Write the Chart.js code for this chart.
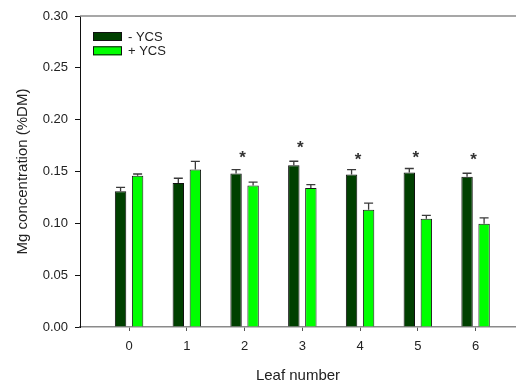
<!DOCTYPE html>
<html>
<head>
<meta charset="utf-8">
<script src="https://cdn.jsdelivr.net/npm/chart.js@4/dist/chart.umd.min.js"></script>
<style>
  html, body { margin: 0; padding: 0; background: #fff; }
  #wrap { width: 516px; height: 385px; position: relative; }
</style>
</head>
<body>
<div id="wrap"><canvas id="c" width="516" height="385"></canvas></div>
<script>
// Leaf positions and Mg concentration (% of dry matter)
const leafNumbers = [0, 1, 2, 3, 4, 5, 6];
const mgWithoutYCS = [0.131, 0.139, 0.148, 0.156, 0.147, 0.149, 0.145];
const errWithoutYCS = [0.0036, 0.0045, 0.0039, 0.0039, 0.0048, 0.0039, 0.0033];
const mgWithYCS = [0.146, 0.152, 0.1365, 0.134, 0.113, 0.1045, 0.0995];
const errWithYCS = [0.0016, 0.0077, 0.0032, 0.0034, 0.0065, 0.0031, 0.0057];
// Significance marks and the height at which each one sits
const sigMarks = ['', '', '*', '*', '*', '*', '*'];
const sigHeights = [0, 0, 0.1667, 0.1763, 0.1644, 0.1667, 0.1644];
const yTicks = [0, 0.05, 0.10, 0.15, 0.20, 0.25, 0.30];

const FONT = '"Liberation Sans", Arial, sans-serif';
const TEXT = '#222';

// Upper error bars for every bar
const errorBars = {
  id: 'errorBars',
  afterDatasetsDraw(chart) {
    const ctx = chart.ctx;
    const y = chart.scales.y;
    const errs = [errWithoutYCS, errWithYCS];
    ctx.save();
    ctx.strokeStyle = '#3a3a3a';
    ctx.lineWidth = 1.3;
    chart.data.datasets.forEach((ds, di) => {
      chart.getDatasetMeta(di).data.forEach((bar, i) => {
        const v = ds.data[i].y;
        const top = y.getPixelForValue(v + errs[di][i]);
        const x = bar.x;
        ctx.beginPath();
        ctx.moveTo(x, bar.y);
        ctx.lineTo(x, top);
        ctx.moveTo(x - 4.5, top);
        ctx.lineTo(x + 4.5, top);
        ctx.stroke();
      });
    });
    ctx.restore();
  }
};

// Asterisks, top frame line and the inset legend
const decorations = {
  id: 'decorations',
  afterDraw(chart) {
    const ctx = chart.ctx;
    const xs = chart.scales.x, ys = chart.scales.y;
    const area = chart.chartArea;
    ctx.save();
    // top frame
    ctx.strokeStyle = '#8a8a8a';
    ctx.lineWidth = 1.5;
    ctx.beginPath();
    ctx.moveTo(area.left, area.top);
    ctx.lineTo(area.right, area.top);
    ctx.stroke();
    // asterisks
    ctx.fillStyle = '#333';
    ctx.font = 'bold 17px ' + FONT;
    ctx.textAlign = 'center';
    ctx.textBaseline = 'middle';
    sigMarks.forEach((m, i) => {
      if (!m) return;
      const px = xs.getPixelForValue(leafNumbers[i]) - 2;
      const py = ys.getPixelForValue(sigHeights[i]);
      ctx.fillText(m, px, py + 4);
    });
    // legend
    ctx.font = '13px ' + FONT;
    ctx.textAlign = 'left';
    ctx.textBaseline = 'middle';
    chart.data.datasets.forEach((ds, di) => {
      const bx = area.left + 13, by = area.top + 16 + di * 14.3;
      ctx.fillStyle = ds.backgroundColor;
      ctx.fillRect(bx, by, 29, 9);
      ctx.strokeStyle = '#111';
      ctx.lineWidth = 1;
      ctx.strokeRect(bx + 0.5, by + 0.5, 28, 8);
      ctx.fillStyle = TEXT;
      ctx.fillText(ds.label, bx + 35, by + 5);
    });
    ctx.restore();
  }
};

const toPoints = (vals) => leafNumbers.map((n, i) => ({ x: n, y: vals[i] }));

new Chart(document.getElementById('c'), {
  type: 'bar',
  data: {
    datasets: [
      {
        label: '- YCS',
        data: toPoints(mgWithoutYCS),
        backgroundColor: '#004000',
        borderColor: '#111',
        borderWidth: 1,
        categoryPercentage: 0.59,
        barPercentage: 0.67
      },
      {
        label: '+ YCS',
        data: toPoints(mgWithYCS),
        backgroundColor: '#00ff00',
        borderColor: '#1a1a1a',
        borderWidth: 1,
        categoryPercentage: 0.59,
        barPercentage: 0.67
      }
    ]
  },
  options: {
    responsive: false,
    animation: false,
    devicePixelRatio: 1,
    layout: { padding: { left: 0, right: 0, top: 16, bottom: 0 } },
    plugins: {
      legend: { display: false },
      tooltip: { enabled: false }
    },
    scales: {
      x: {
        type: 'linear',
        min: -0.85,
        max: 6.7,
        offset: false,
        afterBuildTicks(scale) {
          scale.ticks = leafNumbers.map(v => ({ value: v }));
        },
        afterFit(scale) { scale.height = 58; },
        border: { display: true, color: '#8a8a8a', width: 1.5 },
        grid: { display: true, offset: false, drawOnChartArea: false, drawTicks: true, tickLength: 4, color: '#555' },
        ticks: {
          padding: 8,
          maxRotation: 0,
          color: TEXT,
          font: { family: FONT, size: 13 },
          callback: (v) => String(v)
        },
        title: {
          display: true,
          text: 'Leaf number',
          color: TEXT,
          font: { family: FONT, size: 15 },
          padding: { top: 0, bottom: 0 }
        }
      },
      y: {
        min: 0,
        max: 0.3,
        afterBuildTicks(scale) {
          scale.ticks = yTicks.map(v => ({ value: v }));
        },
        afterFit(scale) { scale.width = 80; },
        border: { display: true, color: '#111', width: 1 },
        grid: { display: true, drawOnChartArea: false, drawTicks: true, tickLength: 5, color: '#111' },
        ticks: {
          padding: 7,
          color: TEXT,
          font: { family: FONT, size: 13 },
          callback: (v) => Number(v).toFixed(2)
        },
        title: {
          display: true,
          text: 'Mg concentration (%DM)',
          color: TEXT,
          font: { family: FONT, size: 15 },
          padding: { top: 14, bottom: 0 }
        }
      }
    }
  },
  plugins: [errorBars, decorations]
});
</script>
</body>
</html>
